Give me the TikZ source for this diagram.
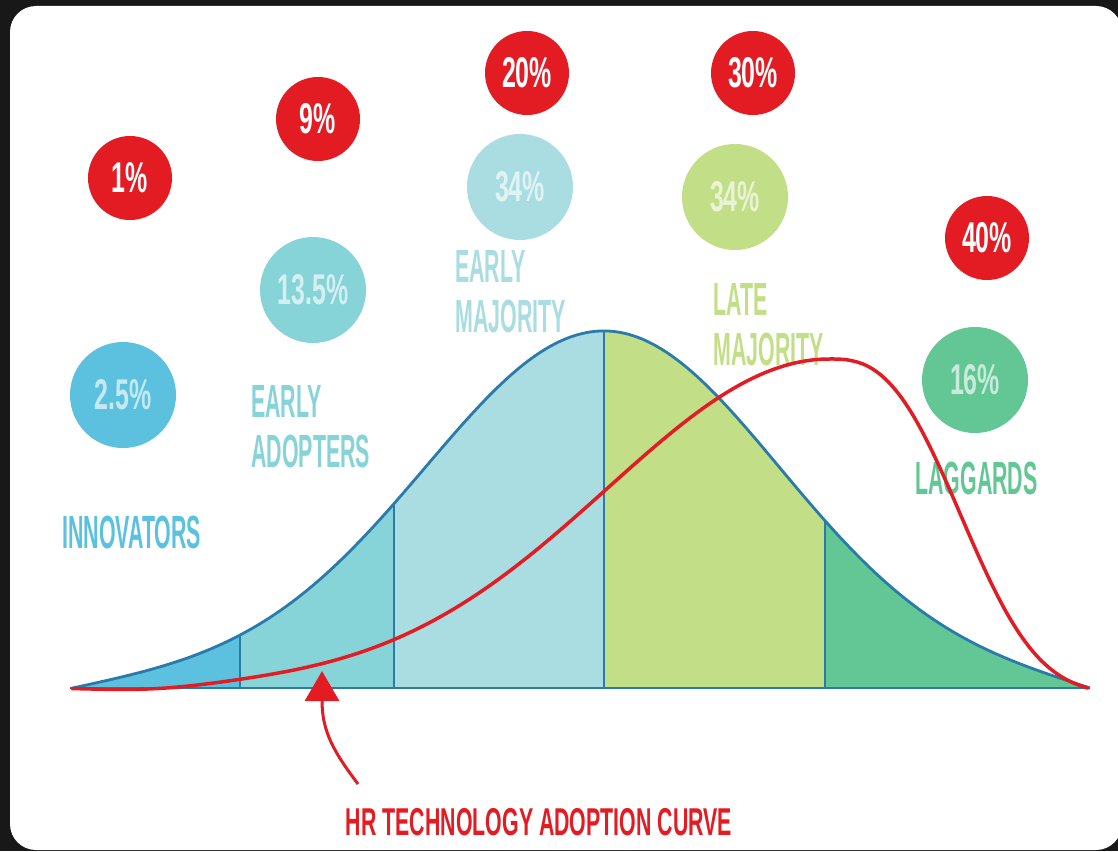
\documentclass[tikz,border=0pt]{standalone}
\usepackage{fontspec}
\newfontfamily\condl[FakeStretch=0.46]{Liberation Sans}
\newfontfamily\condt[FakeStretch=0.55]{Liberation Sans}
\newfontfamily\condn[FakeStretch=0.58]{Liberation Sans}
\usetikzlibrary{arrows.meta}
\definecolor{bgdark}{HTML}{181818}
\definecolor{cred}{HTML}{E31B23}
\definecolor{cline}{HTML}{2A7AAA}
\definecolor{cInn}{HTML}{5BC1DF}
\definecolor{cEA}{HTML}{86D3D8}
\definecolor{cEM}{HTML}{A9DDE1}
\definecolor{cLM}{HTML}{C2DF88}
\definecolor{cLag}{HTML}{62C794}
\tikzset{
  redc/.style={circle, fill=cred, minimum size=84pt, inner sep=0pt, text=white,
    font=\condn\bfseries\fontsize{43}{43}\selectfont},
  pc/.style={circle, minimum size=106pt, inner sep=0pt, text=white, text opacity=0.65,
    font=\condn\bfseries\fontsize{43}{43}\selectfont},
  lab/.style={anchor=west, align=left, inner sep=0pt,
    font=\condl\bfseries\fontsize{46.5}{50}\selectfont},
  outline/.style={draw=cline, line width=2.8pt, line join=round},
  redcurve/.style={draw=cred, line width=3.5pt, line cap=round, line join=round}
}
\begin{document}
\begin{tikzpicture}[x=1pt,y=-1pt]
\useasboundingbox (0,0) rectangle (1118,851);
\fill[bgdark] (0,0) rectangle (1118,851);
\fill[white, rounded corners=26pt] (10,6) rectangle (1122,850);

% bell curve path
\path[save path=\bell]
  plot[domain=72:604, samples=120]
    (\x, {688-357*(0.9*exp(0-((604-\x)/247.5)^2)+0.1*exp(0-((604-\x)/424.3)^2)-0.03*((604-\x)/532)^6)})
  -- plot[domain=604:1090, samples=120]
    (\x, {688-357*(0.9*exp(0-((\x-604)/243.2)^2)+0.1*exp(0-((\x-604)/410.1)^2)-0.0412*((\x-604)/486)^6)});

\begin{scope}
  \clip[use path=\bell];
  \fill[cInn] (60,300) rectangle (240,700);
  \fill[cEA] (240,300) rectangle (394,700);
  \fill[cEM] (394,300) rectangle (604,700);
  \fill[cLM] (604,300) rectangle (825,700);
  \fill[cLag] (825,300) rectangle (1100,700);
  \draw[outline] (240,300) -- (240,700);
  \draw[outline] (394,300) -- (394,700);
  \draw[outline] (604,300) -- (604,700);
  \draw[outline] (825,300) -- (825,700);
\end{scope}
\path[outline, use path=\bell];
\draw[outline] (70,688) -- (1090,688);

% red percentage circles
\node[redc] (r1) at (130,178) {1\%};
\node[redc] (r9) at (318,119) {9\%};
\node[redc] (r20) at (527,73) {20\%};
\node[redc] (r30) at (753,73) {30\%};
\node[redc] (r40) at (987,238) {40\%};

% segment percentage circles
\node[pc, fill=cInn] (p1) at (123,395) {2.5\%};
\node[pc, fill=cEA] (p2) at (313,290) {13.5\%};
\node[pc, fill=cEM] (p3) at (520,187) {34\%};
\node[pc, fill=cLM] (p4) at (735,197) {34\%};
\node[pc, fill=cLag] (p5) at (975,380) {16\%};

% segment labels
\node[lab, text=cInn] (l1) at (62,532) {INNOVATORS};
\node[lab, text=cEA] (l2) at (251,427) {EARLY\\ADOPTERS};
\node[lab, text=cEM] (l3) at (455,292) {EARLY\\MAJORITY};
\node[lab, text=cLM] (l4) at (713,325) {LATE\\MAJORITY};
\node[lab, text=cLag] (l5) at (915,478) {LAGGARDS};

% red adoption curve
\draw[redcurve]
  plot[domain=72:830, samples=150]
    (\x, {688-329*exp(0-((830-\x)/315)^2)+4*exp(0-((\x-150)/80)^2)})
  -- plot[domain=830:1088, samples=80]
    (\x, {688-329*(exp(0-((\x-829.99)/155.5)^2.7)-0.0198)/0.9802});

% title and arrow
\node[text=cred, font=\condt\bfseries\fontsize{38.8}{40}\selectfont, inner sep=0pt]
  (title) at (539,822) {HR TECHNOLOGY ADOPTION CURVE};
\coordinate (astart) at (358,784);
\coordinate (tip) at (322,671);
\draw[cred, line width=3pt, -{Triangle[width=34pt,length=30pt]}]
  (astart) .. controls (334,752) and (322,732) .. (tip);
\end{tikzpicture}
\end{document}
